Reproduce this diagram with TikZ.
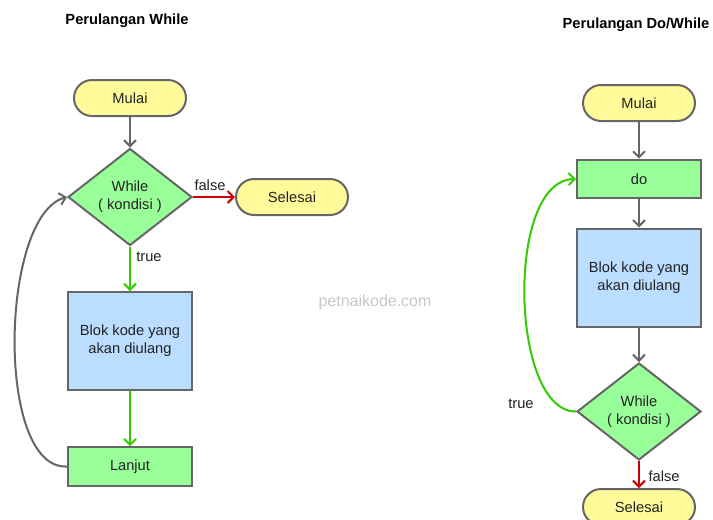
\documentclass[tikz,border=0pt]{standalone}
\usepackage{fontspec}
\setmainfont{Liberation Sans}
\usetikzlibrary{arrows.meta,shapes.geometric,shapes.misc}
\definecolor{termfill}{HTML}{FFFB9B}
\definecolor{stepfill}{HTML}{99FF99}
\definecolor{blockfill}{HTML}{BBDDFF}
\definecolor{edgegray}{HTML}{666666}
\definecolor{flowgreen}{HTML}{33CC00}
\definecolor{flowred}{HTML}{CC0000}
\definecolor{inkdark}{HTML}{222222}
\tikzset{
  base/.style={draw=edgegray, line width=1.5pt, text=inkdark, align=center,
    font=\fontsize{11}{13.5}\selectfont, inner sep=0pt},
  terminal/.style={base, rounded rectangle, fill=termfill,
    minimum width=84pt, minimum height=27pt},
  stepbox/.style={base, rectangle, fill=stepfill,
    minimum width=93pt, minimum height=29pt},
  blockbox/.style={base, rectangle, fill=blockfill,
    minimum width=93pt, minimum height=73.5pt},
  decision/.style={base, diamond, fill=stepfill, aspect=1.28,
    minimum width=93pt, minimum height=72.75pt},
  flow/.style={line width=1.5pt,
    -{Straight Barb[length=4.5pt,width=9pt,line width=1.5pt]}},
  grayflow/.style={flow, draw=edgegray},
  greenflow/.style={flow, draw=flowgreen},
  redflow/.style={flow, draw=flowred},
  heading/.style={font=\bfseries\fontsize{11}{13}\selectfont, text=black},
  edgelabel/.style={font=\fontsize{11}{13}\selectfont, text=inkdark}
}
\begin{document}
\begin{tikzpicture}[x=0.75pt,y=-0.75pt]
  \clip (0,0) rectangle (713,519);
  \fill[white] (0,0) rectangle (713,519);

  % ---------- while loop ----------
  \node[heading] (title1) at (127,21) {Perulangan While};
  \node[terminal] (mulai1) at (130,98) {Mulai};
  \node[decision] (cond1) at (130,197) {While\\( kondisi )};
  \node[terminal] (selesai1) at (292,197) {Selesai};
  \node[blockbox] (blok1) at (130,341) {Blok kode yang\\akan diulang};
  \node[stepbox] (lanjut1) at (130,466.5) {Lanjut};

  \draw[grayflow] (mulai1.south) -- (cond1.north);
  \draw[redflow] (cond1.east) -- (selesai1.west);
  \node[edgelabel] (false1) at (210,185) {false};
  \draw[greenflow] (cond1.south) -- (blok1.north);
  \node[edgelabel] (true1) at (149,257) {true};
  \draw[greenflow] (blok1.south) -- (lanjut1.north);
  \draw[grayflow] (lanjut1.west) .. controls (-5,470) and (0,215) .. (cond1.west);

  % ---------- do/while loop ----------
  \node[heading] (title2) at (636,25) {Perulangan Do/While};
  \node[terminal] (mulai2) at (639,103) {Mulai};
  \node[stepbox] (do2) at (639,179) {do};
  \node[blockbox] (blok2) at (639,277.5) {Blok kode yang\\akan diulang};
  \node[decision] (cond2) at (639,411.5) {While\\( kondisi )};
  \node[terminal] (selesai2) at (639,507) {Selesai};

  \draw[grayflow] (mulai2.south) -- (do2.north);
  \draw[grayflow] (do2.south) -- (blok2.north);
  \draw[grayflow] (blok2.south) -- (cond2.north);
  \draw[redflow] (cond2.south) -- (selesai2.north);
  \node[edgelabel] (false2) at (664,476) {false};
  \draw[greenflow] (cond2.west) .. controls (510,412) and (505,180) .. (do2.west);
  \node[edgelabel] (true2) at (521,404) {true};

  % watermark
  \node[font=\fontsize{12}{14}\selectfont, text=black!22] (mark) at (375,302) {petnaikode.com};
\end{tikzpicture}
\end{document}
